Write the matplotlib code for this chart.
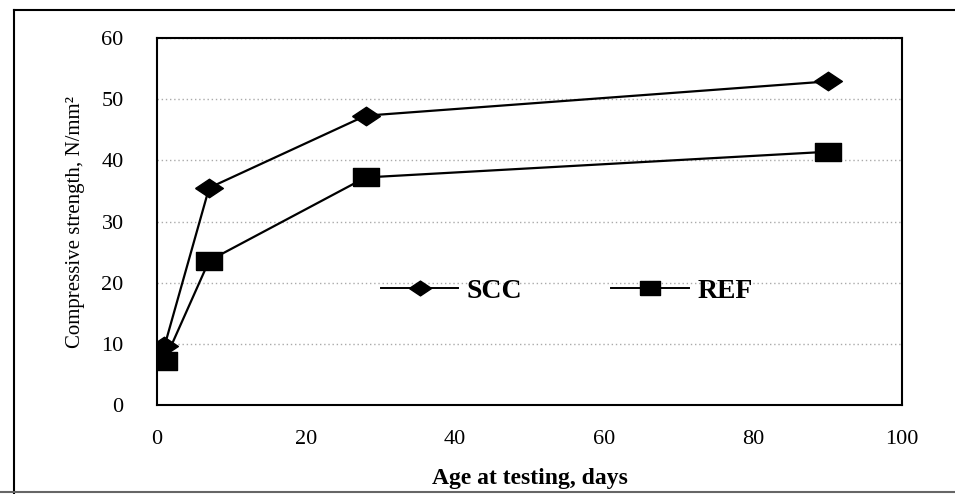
import matplotlib
matplotlib.use('Agg')
import matplotlib.pyplot as plt
from matplotlib.lines import Line2D

# data
age_days = [1, 7, 28, 90]
scc_strength = [9.6, 35.5, 47.3, 52.9]
ref_strength = [7.2, 23.6, 37.2, 41.4]
series_names = ['SCC', 'REF']
x_ticks = [0, 20, 40, 60, 80, 100]
y_ticks = [0, 10, 20, 30, 40, 50, 60]

plt.rcParams['font.family'] = ['Liberation Serif', 'DejaVu Serif']

# squashed diamond / square, wider than tall like the scanned figure
diamond = [(-1.5, 0), (0, 1), (1.5, 0), (0, -1), (-1.5, 0)]
square = [(-1.5, -1), (1.5, -1), (1.5, 1), (-1.5, 1), (-1.5, -1)]

fig = plt.figure(figsize=(9.55, 4.94), dpi=100)
ax = fig.add_axes([157 / 955, 1 - 405 / 494, (902 - 157) / 955, (405 - 38) / 494])

ax.plot(age_days, scc_strength, color='black', lw=1.6, marker=diamond,
        markersize=20, label=series_names[0], zorder=3)
ax.plot(age_days, ref_strength, color='black', lw=1.6, marker=square,
        markersize=19, label=series_names[1], zorder=3)

ax.set_xlim(0, 100)
ax.set_ylim(0, 60)
ax.set_xticks(x_ticks)
ax.set_yticks(y_ticks)
ax.tick_params(length=0, labelsize=16)
ax.tick_params(axis='x', pad=18)
ax.tick_params(axis='y', pad=24)
for s in ax.spines.values():
    s.set_linewidth(1.5)
ax.yaxis.grid(True, linestyle=(0, (1, 2)), color='#aaaaaa', lw=1)
ax.set_axisbelow(True)

ax.set_xlabel('Age at testing, days', fontsize=17, fontweight='bold', labelpad=14)
ax.set_ylabel('Compressive strength, N/mm²', fontsize=15, labelpad=12)

handles = [Line2D([], [], color='black', lw=1.4, marker=diamond, markersize=16),
           Line2D([], [], color='black', lw=1.4, marker=square, markersize=15)]
ax.legend(handles, series_names, loc='center', bbox_to_anchor=(0.55, 0.31),
          ncol=2, frameon=False, prop={'size': 20, 'weight': 'bold'},
          handlelength=2.8, columnspacing=3.2, handletextpad=0.3)

# outer border of the scanned figure
fig.add_artist(Line2D([14 / 955, 14 / 955], [0, 1 - 10 / 494], color='black', lw=1.5))
fig.add_artist(Line2D([14 / 955, 1], [1 - 10 / 494, 1 - 10 / 494], color='black', lw=1.5))
fig.add_artist(Line2D([0, 1], [2 / 494, 2 / 494], color='#666666', lw=1.5))

fig.savefig('out.png', dpi=100)
